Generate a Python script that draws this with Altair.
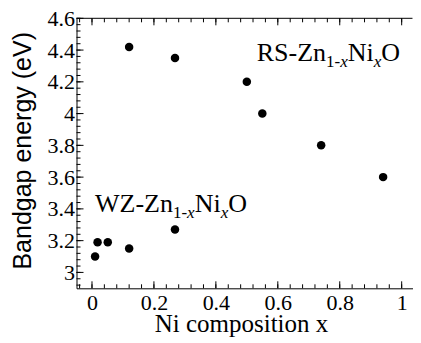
import altair as alt
import pandas as pd
import numpy as np

# --- data ---
ni_x = [0.010, 0.018, 0.051, 0.120, 0.268, 0.120, 0.268, 0.500, 0.550, 0.740, 0.940]
gap = [3.10, 3.19, 3.19, 3.15, 3.27, 4.42, 4.35, 4.20, 4.00, 3.80, 3.60]

x_major = [0, 0.2, 0.4, 0.6, 0.8, 1]
y_major = [3, 3.2, 3.4, 3.6, 3.8, 4, 4.2, 4.4, 4.6]
x_minor = [round(v, 2) for v in np.arange(-0.04, 1.0301, 0.04)]
y_minor = [round(v, 2) for v in np.arange(2.92, 4.6001, 0.04)]

labels = ["RS", "WZ"]
label_x = [0.532, 0.0097]
label_y = [4.333, 3.382]

PXU = 309.7
W, H = 336, 270
X0 = -0.05
SERIF = "Liberation Serif"

xs = alt.Scale(domain=[X0, X0 + W / PXU], nice=False, zero=False)
ys = alt.Scale(domain=[2.9, 4.6], nice=False, zero=False)

XAXIS = alt.Axis(values=x_major, format="~g", title="Ni composition x")
YAXIS = alt.Axis(values=y_major, format="~g", title="Bandgap energy (eV)")

df = pd.DataFrame({"x": ni_x, "y": gap})

points = alt.Chart(df).mark_circle(size=72, color="black", opacity=1).encode(
    x=alt.X("x:Q", scale=xs, axis=XAXIS),
    y=alt.Y("y:Q", scale=ys, axis=YAXIS),
)

def xticks(vals, length):
    d = pd.DataFrame({"x": vals})
    bot = alt.Chart(d).mark_rule(color="black", strokeWidth=1).encode(
        x=alt.X("x:Q", scale=xs, axis=XAXIS), y=alt.value(H), y2=alt.value(H - length))
    top = alt.Chart(d).mark_rule(color="black", strokeWidth=1).encode(
        x=alt.X("x:Q", scale=xs, axis=XAXIS), y=alt.value(0), y2=alt.value(length))
    return [bot, top]

def yticks(vals, length):
    d = pd.DataFrame({"y": vals})
    left = alt.Chart(d).mark_rule(color="black", strokeWidth=1).encode(
        y=alt.Y("y:Q", scale=ys, axis=YAXIS), x=alt.value(0), x2=alt.value(length))
    return [left]

top_line = alt.Chart(pd.DataFrame({"a": [0]})).mark_rule(color="black", strokeWidth=1).encode(
    x=alt.value(0), x2=alt.value(W), y=alt.value(0))

# Times metrics (per 1000 em)
WID = {"R": 667, "S": 556, "-": 333, "Z": 611, "n": 500, "W": 944, "N": 722,
       "i": 278, "O": 722, "1": 500, "x": 444}

def tw(s, size):
    return sum(WID[c] for c in s) * size / 1000.0

MAIN, SUB, SHIFT = 26, 17, 6

text_layers = []
for name, lx, ly in zip(labels, label_x, label_y):
    pieces = [(name + "-Zn", MAIN, "normal", 0), ("1-", SUB, "normal", SHIFT),
              ("x", SUB, "italic", SHIFT), ("Ni", MAIN, "normal", 0),
              ("x", SUB, "italic", SHIFT), ("O", MAIN, "normal", 0)]
    off = 0.0
    d = pd.DataFrame({"x": [lx], "y": [ly]})
    for txt, size, style, dy in pieces:
        text_layers.append(
            alt.Chart(d).mark_text(text=txt, font=SERIF, fontSize=size, fontStyle=style,
                                   align="left", baseline="alphabetic", dx=off, dy=dy,
                                   color="black").encode(
                x=alt.X("x:Q", scale=xs, axis=XAXIS), y=alt.Y("y:Q", scale=ys, axis=YAXIS)))
        off += tw(txt, size)

layers = [points] + xticks(x_minor, 4) + xticks(x_major, 7) + yticks(y_minor, 4) + \
    yticks(y_major, 7) + [top_line] + text_layers

chart = alt.layer(*layers).properties(
    width=W, height=H, autosize="none",
    padding={"left": 68.5, "top": 10.3, "right": 0, "bottom": 50},
    background="white",
).configure(
    style={"guide-label": {"font": SERIF}, "guide-title": {"font": SERIF}}
).configure_view(stroke=None).configure_axis(
    tickSize=0, grid=False, labelFont=SERIF, labelFontSize=22, labelColor="black",
    labelFlush=False, domainColor="black", domainWidth=1, titleFontWeight="normal",
    titleColor="black",
).configure_axisX(
    labelPadding=4, titleFont=SERIF, titleFontSize=25, titleX=164.5, titleY=43,
    titleBaseline="alphabetic", titleAlign="center",
).configure_axisY(
    labelPadding=2, titleFont="Liberation Sans", titleFontSize=25,
    titleAngle=270, titleX=-46.5, titleY=132, titleBaseline="alphabetic", titleAlign="center",
)

chart.save("out.html", embed_options={"renderer": "svg", "actions": False})
